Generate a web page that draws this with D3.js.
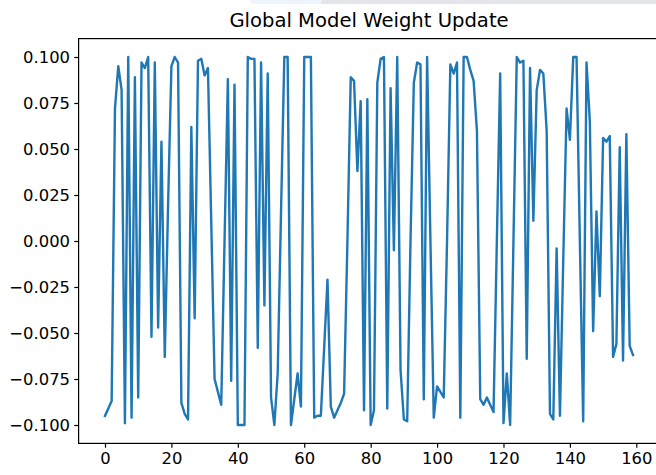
<!DOCTYPE html>
<html>
<head>
<meta charset="utf-8">
<script src="https://cdn.jsdelivr.net/npm/d3@7"></script>
<style>
  html, body { margin: 0; padding: 0; background: #fff; }
  svg { display: block; }
  text { font-family: "DejaVu Sans", sans-serif; fill: #000; }
</style>
</head>
<body>
<svg id="chart" width="656" height="475"></svg>
<script>
const title = "Global Model Weight Update";
const xTicks = [0, 20, 40, 60, 80, 100, 120, 140, 160];
const yTicks = [-0.1, -0.075, -0.05, -0.025, 0, 0.025, 0.05, 0.075, 0.1];
const weights = [
  -0.095, -0.091, -0.087, 0.072, 0.095, 0.082, -0.099, 0.100, -0.096, 0.089,
  -0.085, 0.097, 0.094, 0.100, -0.052, 0.097, -0.047, 0.054, -0.063, 0.020,
  0.095, 0.100, 0.097, -0.088, -0.094, -0.097, 0.062, -0.042, 0.098, 0.099,
  0.090, 0.094, 0.010, -0.075, -0.082, -0.089, 0.000, 0.088, -0.076, 0.085,
  -0.100, -0.100, -0.100, 0.100, 0.099, 0.099, -0.058, 0.097, -0.035, 0.091,
  -0.085, -0.100, -0.072, 0.015, 0.100, 0.100, -0.100, -0.086, -0.072, -0.090,
  0.100, 0.100, 0.100, -0.096, -0.095, -0.095, -0.058, -0.021, -0.090, -0.096,
  -0.092, -0.088, -0.083, 0.000, 0.089, 0.087, 0.038, 0.076, -0.092, 0.077,
  -0.100, -0.092, 0.086, 0.099, 0.100, -0.091, 0.083, -0.005, 0.100, -0.070,
  -0.097, -0.098, 0.000, 0.086, 0.097, 0.096, -0.086, 0.100, 0.000, -0.096,
  -0.079, -0.082, -0.085, 0.000, 0.096, 0.091, 0.097, -0.096, 0.100, 0.100,
  0.093, 0.087, 0.060, -0.086, -0.089, -0.085, -0.089, -0.093, 0.000, 0.091,
  -0.099, -0.072, -0.100, 0.000, 0.100, 0.097, 0.098, -0.064, 0.094, 0.011,
  0.082, 0.093, 0.091, 0.060, -0.094, -0.097, -0.004, -0.095, -0.010, 0.072,
  0.055, 0.100, 0.100, 0.000, -0.098, 0.097, 0.065, -0.049, 0.016, -0.030,
  0.056, 0.054, 0.057, -0.063, -0.056, 0.051, -0.065, 0.058, -0.057, -0.062
];
const steps = weights.map((d, i) => i);

const svg = d3.select("#chart");

// faint screenshot band at the top right
svg.append("rect").attr("x", 318).attr("y", -4).attr("width", 345).attr("height", 8)
  .attr("rx", 4).attr("fill", "#e3e5e8");
svg.append("rect").attr("x", 250).attr("y", -4).attr("width", 72).attr("height", 8)
  .attr("rx", 4).attr("fill", "#eef4fb");

const plotL = 78.6, plotR = 659.4, plotT = 38.6, plotB = 443.4;

const x = d3.scaleLinear().domain([-7.95, 166.95]).range([plotL, plotR]);
const y = d3.scaleLinear().domain([-0.11, 0.11]).range([plotB, plotT]);

const fmt = d3.format(".3f");

const xAxis = d3.axisBottom(x).tickValues(xTicks).tickSize(4.3).tickPadding(4.3).tickFormat(d3.format("d"));
const yAxis = d3.axisLeft(y).tickValues(yTicks).tickSize(4.3).tickPadding(4.3).tickFormat(fmt);

const gx = svg.append("g").attr("transform", `translate(0,${plotB})`).call(xAxis);
const gy = svg.append("g").attr("transform", `translate(${plotL},0)`).call(yAxis);

[gx, gy].forEach(g => {
  g.select(".domain").remove();
  g.selectAll(".tick line").attr("stroke", "#000").attr("stroke-width", 1.2);
  g.selectAll(".tick text").attr("font-size", "16.4px").attr("fill", "#000")
    .style("font-family", "'DejaVu Sans', sans-serif");
});

// frame
svg.append("rect").attr("x", plotL).attr("y", plotT)
  .attr("width", plotR - plotL).attr("height", plotB - plotT)
  .attr("fill", "none").attr("stroke", "#000").attr("stroke-width", 1.2);

const line = d3.line().x((d, i) => x(steps[i])).y(d => y(d));

svg.append("path").datum(weights)
  .attr("d", line)
  .attr("fill", "none")
  .attr("stroke", "#1f77b4")
  .attr("stroke-width", 2.4)
  .attr("stroke-linejoin", "round")
  .attr("stroke-linecap", "square");

svg.append("text").attr("x", 369).attr("y", 27)
  .attr("text-anchor", "middle").attr("font-size", "19.6px").text(title);
</script>
</body>
</html>
